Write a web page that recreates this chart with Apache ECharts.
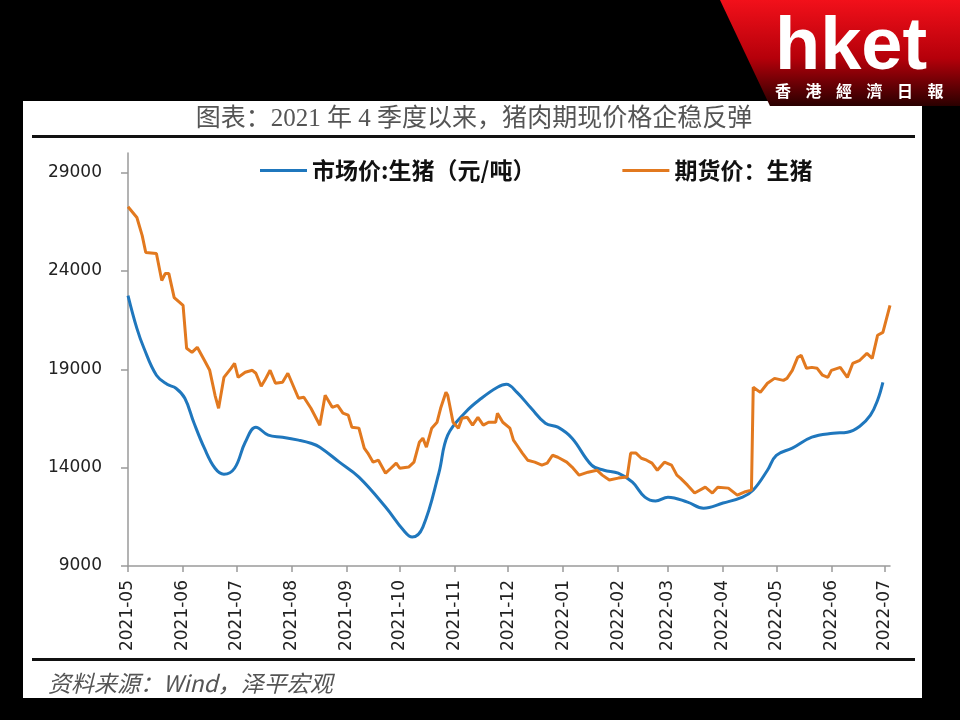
<!DOCTYPE html>
<html><head><meta charset="utf-8">
<script src="https://cdn.jsdelivr.net/npm/echarts/dist/echarts.min.js"></script>
<style>html,body{margin:0;padding:0;background:#000;}#c{width:960px;height:720px;}</style>
</head><body><div id="c"></div>
<script>
const titleText = '图表：2021 年 4 季度以来，猪肉期现价格企稳反弹';
const sourceText = '资料来源：Wind，泽平宏观';
const seriesNames = ['市场价:生猪（元/吨）', '期货价：生猪'];
const monthTicks = ['2021-05','2021-06','2021-07','2021-08','2021-09','2021-10','2021-11','2021-12','2022-01','2022-02','2022-03','2022-04','2022-05','2022-06','2022-07'];
const yTicks = [9000, 14000, 19000, 24000, 29000];

const marketDates = ['2021-05-01','2021-05-06','2021-05-10','2021-05-17','2021-05-23','2021-05-28','2021-06-02','2021-06-07','2021-06-13','2021-06-19','2021-06-24','2021-06-30','2021-07-06','2021-07-12','2021-07-19','2021-07-27','2021-08-05','2021-08-12','2021-08-17','2021-08-28','2021-09-08','2021-09-23','2021-10-03','2021-10-08','2021-10-14','2021-10-23','2021-10-28','2021-11-07','2021-11-16','2021-11-25','2021-11-30','2021-12-06','2021-12-14','2021-12-22','2021-12-29','2022-01-06','2022-01-17','2022-01-24','2022-02-01','2022-02-09','2022-02-16','2022-02-22','2022-03-01','2022-03-12','2022-03-21','2022-04-01','2022-04-12','2022-04-18','2022-04-26','2022-05-01','2022-05-10','2022-05-21','2022-06-02','2022-06-10','2022-06-17','2022-06-23','2022-06-27','2022-06-30'];
const marketValues = [22750,21080,20070,18700,18240,18040,17530,16310,14990,13970,13670,13970,15290,16060,15650,15550,15400,15240,15040,14280,13520,12000,10830,10470,10980,13720,15650,16820,17530,18090,18240,17830,17020,16260,16060,15500,14130,13870,13720,13260,12500,12300,12500,12250,11940,12200,12500,12860,13870,14630,14990,15550,15750,15800,16110,16670,17430,18340];

const futuresDates = ['2021-05-01','2021-05-06','2021-05-09','2021-05-11','2021-05-12','2021-05-17','2021-05-20','2021-05-22','2021-05-24','2021-05-27','2021-06-01','2021-06-03','2021-06-06','2021-06-09','2021-06-13','2021-06-16','2021-06-19','2021-06-21','2021-06-24','2021-06-28','2021-06-30','2021-07-02','2021-07-06','2021-07-10','2021-07-12','2021-07-15','2021-07-17','2021-07-20','2021-07-23','2021-07-27','2021-07-30','2021-08-05','2021-08-08','2021-08-12','2021-08-17','2021-08-20','2021-08-24','2021-08-27','2021-08-30','2021-09-02','2021-09-04','2021-09-08','2021-09-11','2021-09-13','2021-09-16','2021-09-19','2021-09-23','2021-09-26','2021-09-29','2021-10-01','2021-10-06','2021-10-09','2021-10-12','2021-10-14','2021-10-16','2021-10-19','2021-10-22','2021-10-24','2021-10-27','2021-10-28','2021-10-31','2021-11-03','2021-11-05','2021-11-08','2021-11-11','2021-11-14','2021-11-17','2021-11-20','2021-11-24','2021-11-25','2021-11-28','2021-12-02','2021-12-04','2021-12-06','2021-12-09','2021-12-12','2021-12-16','2021-12-20','2021-12-23','2021-12-26','2021-12-29','2022-01-03','2022-01-06','2022-01-10','2022-01-15','2022-01-20','2022-01-23','2022-01-27','2022-02-01','2022-02-06','2022-02-08','2022-02-11','2022-02-14','2022-02-17','2022-02-20','2022-02-23','2022-02-27','2022-03-03','2022-03-06','2022-03-08','2022-03-12','2022-03-16','2022-03-22','2022-03-26','2022-03-29','2022-04-04','2022-04-09','2022-04-13','2022-04-17','2022-04-18','2022-04-22','2022-04-26','2022-04-30','2022-05-05','2022-05-07','2022-05-10','2022-05-13','2022-05-15','2022-05-18','2022-05-21','2022-05-24','2022-05-27','2022-05-30','2022-06-01','2022-06-06','2022-06-10','2022-06-13','2022-06-17','2022-06-21','2022-06-24','2022-06-27','2022-06-30','2022-07-04'];
const futuresValues = [27270,26720,25800,24940,24890,24890,23520,23870,23870,22650,22250,20070,19860,20120,19460,18950,17680,17020,18590,19050,19300,18590,18850,18950,18800,18140,18440,18950,18290,18340,18800,17530,17580,17020,16160,17680,17070,17170,16770,16670,16060,16010,14990,14740,14280,14380,13720,13970,14230,13970,14030,14280,15290,15500,15040,16010,16310,17020,17830,17680,16310,16010,16510,16560,16160,16560,16160,16310,16310,16770,16310,16010,15400,15140,14740,14380,14280,14130,14230,14630,14530,14280,14030,13620,13770,13870,13620,13370,13470,13520,14740,14740,14480,14380,14230,13870,14280,14130,13620,13470,13110,12710,13010,12710,13010,12960,12600,12760,12860,18090,17830,18290,18540,18440,18540,18950,19610,19710,19050,19100,19050,18700,18590,18950,19100,18590,19300,19460,19810,19560,20730,20880,22250];

function ts(s){ const p = s.split('-'); return Date.UTC(+p[0], +p[1]-1, p[2] ? +p[2] : 1); }
function fmt(v){ const d = new Date(v); const m = d.getUTCMonth()+1; return d.getUTCFullYear() + '-' + (m < 10 ? '0' + m : m); }

const marketData = marketDates.map((d,i) => [ts(d), marketValues[i]]);
const futuresData = futuresDates.map((d,i) => [ts(d), futuresValues[i]]);
const monthVals = monthTicks.map(ts);

const chart = echarts.init(document.getElementById('c'));
const logoChars = ['香','港','經','濟','日','報'];
const graphics = [
  {type:'rect', z:-10, shape:{x:23,y:101,width:899,height:597}, style:{fill:'#fff'}},
  {type:'rect', z:5, shape:{x:32,y:135,width:883,height:3}, style:{fill:'#111'}},
  {type:'rect', z:5, shape:{x:32,y:658,width:883,height:3}, style:{fill:'#111'}},
  {type:'text', z:5, x:474, y:119, style:{text:titleText, fill:'#555', font:'25px "Liberation Serif", "Noto Sans CJK SC"', textAlign:'center', textVerticalAlign:'middle'}},
  {type:'text', z:5, x:48, y:683, style:{text:sourceText, fill:'#555', font:'italic 23px "Noto Sans CJK SC"', textAlign:'left', textVerticalAlign:'middle'}},
  {type:'polygon', z:20, shape:{points:[[720,0],[960,0],[960,106],[770,106]]}, style:{fill:new echarts.graphic.LinearGradient(0,0,0,1,[{offset:0,color:'#f2101a'},{offset:0.55,color:'#b5000a'},{offset:1,color:'#2a0000'}])}},
  {type:'text', z:21, x:775, y:49, style:{text:'hket', fill:'#fff', font:'bold 74px "Liberation Sans"', textAlign:'left', textVerticalAlign:'middle'}}
];
logoChars.forEach((c,i) => graphics.push({type:'text', z:21, x:783 + i*30.5, y:91, style:{text:c, fill:'#fff', font:'bold 16px "Noto Sans CJK TC"', textAlign:'center', textVerticalAlign:'middle'}}));

chart.setOption({
  backgroundColor:'#000',
  animation:false,
  graphic: graphics,
  legend:{
    data: seriesNames, left:260, top:159, padding:0, itemGap:87,
    icon:'rect', itemWidth:47, itemHeight:3,
    textStyle:{fontSize:23, fontWeight:'bold', color:'#111', fontFamily:'"Noto Sans CJK SC"'}
  },
  grid:{left:128, right:70, top:153, bottom:154, containLabel:false},
  xAxis:{
    type:'value', min:ts('2021-05-01'), max:ts('2022-07-04'),
    axisLine:{lineStyle:{color:'#9a9a9a', width:1.5}},
    axisTick:{customValues:monthVals, length:6, lineStyle:{color:'#9a9a9a', width:1.5}},
    axisLabel:{customValues:monthVals, formatter:fmt, rotate:90, margin:14, fontSize:17, color:'#222', fontFamily:'"DejaVu Sans"'},
    splitLine:{show:false}
  },
  yAxis:{
    type:'value', min:9000, max:30000,
    axisLine:{show:true, lineStyle:{color:'#9a9a9a', width:1.5}},
    axisTick:{show:true, customValues:yTicks, length:7, lineStyle:{color:'#9a9a9a', width:1.5}},
    axisLabel:{customValues:yTicks, formatter:v => String(v), margin:26, fontSize:17, color:'#222', fontFamily:'"DejaVu Sans"'},
    splitLine:{show:false}
  },
  series:[
    {name:seriesNames[0], type:'line', data:marketData, showSymbol:false, smooth:0.4, lineStyle:{width:3, color:'#1f77bd'}, itemStyle:{color:'#1f77bd'}},
    {name:seriesNames[1], type:'line', data:futuresData, showSymbol:false, smooth:false, lineStyle:{width:3, color:'#e2791f'}, itemStyle:{color:'#e2791f'}}
  ]
});
</script></body></html>
